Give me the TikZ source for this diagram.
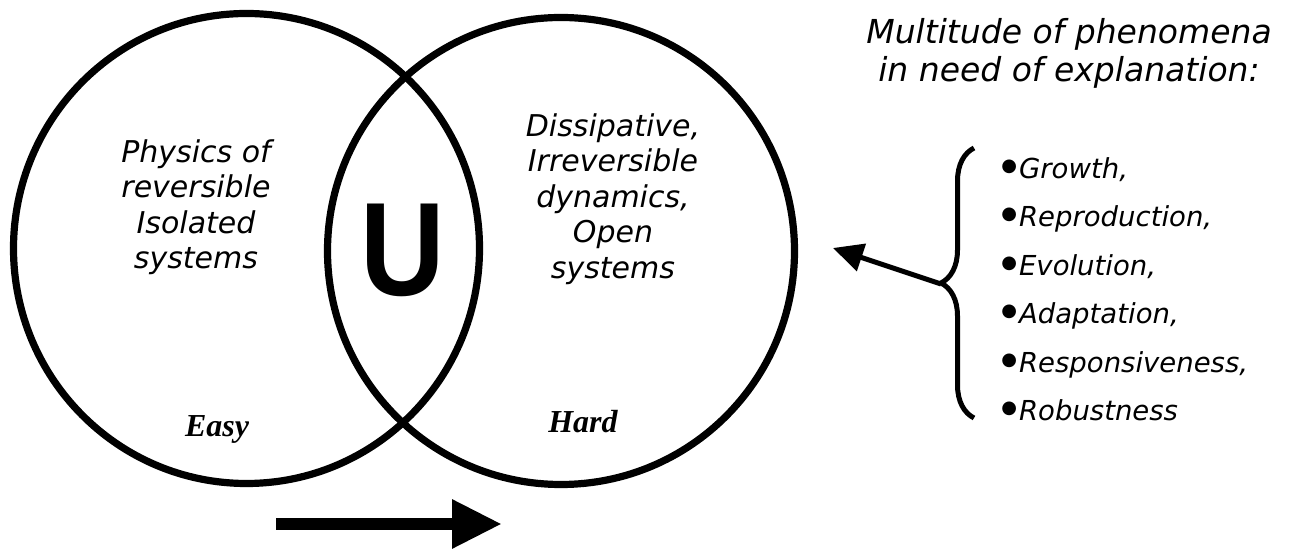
\documentclass[tikz,border=0pt]{standalone}
\usepackage{fontspec}
\setmainfont{DejaVu Sans}
\newfontfamily\timesfont{Liberation Serif}
\newfontfamily\arialfont{Liberation Sans}
\usepackage{tikz}
\usetikzlibrary{shapes.geometric,arrows.meta,decorations.pathreplacing,positioning}
\newcommand{\dotitem}[1]{\raisebox{3.5pt}{\fontsize{9pt}{9pt}\selectfont ●}\hspace{1pt}\textit{#1}}

\begin{document}
\begin{tikzpicture}[x=0.5pt,y=-0.5pt,>={Triangle[length=15pt,width=14pt]}]
\tikzstyle{venn}=[ellipse,draw=black,line width=3.6pt,inner sep=0pt]
\tikzstyle{body}=[align=center,inner sep=0pt,anchor=north,font=\fontsize{15pt}{17.75pt}\selectfont\itshape]
\tikzstyle{level}=[inner sep=0pt,anchor=base,font=\fontsize{16pt}{19pt}\selectfont\timesfont\bfseries\itshape]
\useasboundingbox (0,0) rectangle (1292,549);
% two overlapping worlds
\node[venn,minimum width=233pt,minimum height=235pt] (easy) at (246.5,248.5) {};
\node[venn,minimum width=233.5pt,minimum height=233.5pt] (hard) at (561,251) {};
\node[body] (rev) at (196,139) {Physics of\\reversible\\Isolated\\systems};
\node[body] (diss) at (613,113) {Dissipative,\\Irreversible\\dynamics,\\Open\\systems};
\node[inner sep=0pt,font=\fontsize{66.5pt}{70pt}\selectfont\arialfont\bfseries] (u) at (403,250) {\scalebox{0.88}[1]{U}};
\node[level] (el) at (217,437) {Easy};
\node[level] (hl) at (583,433) {Hard};
% direction
\coordinate (from) at (276,524);
\coordinate (to) at (502,524);
\draw[line width=6pt,-{Triangle[length=25pt,width=23pt]}] (from) -- (to);
% phenomena
\node[align=center,inner sep=0pt,anchor=north,font=\fontsize{16.5pt}{19pt}\selectfont\itshape] (title) at (1069,18.5) {Multitude of phenomena\\in need of explanation:};
\node[align=left,inner sep=0pt,anchor=north west,font=\fontsize{13.75pt}{24.25pt}\selectfont] (list) at (1001,157)
  {\dotitem{Growth,}\\\dotitem{Reproduction,}\\\dotitem{Evolution,}\\\dotitem{Adaptation,}\\\dotitem{Responsiveness,}\\\dotitem{Robustness}};
\draw[line width=2.5pt,decorate,decoration={brace,amplitude=16.5pt}] (974,418) -- (974,148);
\coordinate (cusp) at (941,284);
\coordinate (goal) at (833,248);
\draw[line width=2.5pt,->] (cusp) -- (goal);
\end{tikzpicture}
\end{document}
